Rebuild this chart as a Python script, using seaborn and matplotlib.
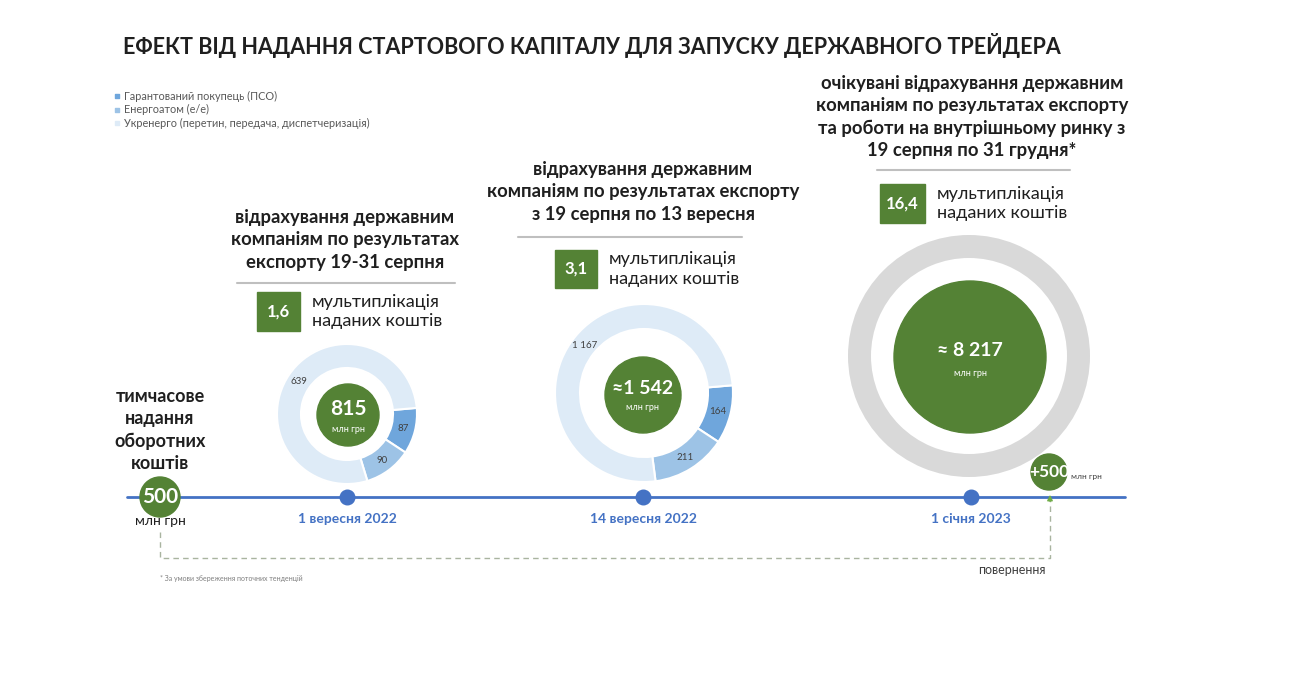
import matplotlib
matplotlib.use('Agg')
import matplotlib.pyplot as plt
from matplotlib.patches import Circle, Rectangle
import seaborn as sns

#Дані
title = "ЕФЕКТ ВІД НАДАННЯ СТАРТОВОГО КАПІТАЛУ ДЛЯ ЗАПУСКУ ДЕРЖАВНОГО ТРЕЙДЕРА"
legend_labels = ["Гарантований покупець (ПСО)", "Енергоатом (е/е)",
                 "Укренерго (перетин, передача, диспетчеризація)"]
headings = [
    "відрахування державним\nкомпаніям по результатах\nекспорту 19-31 серпня",
    "відрахування державним\nкомпаніям по результатах експорту\nз 19 серпня по 13 вересня",
    "очікувані відрахування державним\nкомпаніям по результатах експорту\nта роботи на внутрішньому ринку з\n19 серпня по 31 грудня*",
]
multipliers = ["1,6", "3,1", "16,4"]
multiplier_caption = "мультиплікація\nнаданих коштів"
totals = ["815", "≈1 542", "≈ 8 217"]
sep_1 = [87, 90, 639]        # ПСО, Енергоатом, Укренерго
sep_14 = [164, 211, 1167]
jan_1 = [8217]
dates = ["1 вересня 2022", "14 вересня 2022", "1 січня 2023"]
start_amount = "500"
return_amount = "+500"
unit = "млн грн"
start_caption = "тимчасове\nнадання\nоборотних\nкоштів"
return_caption = "повернення"
footnote = "* За умови збереження поточних тенденцій"

#Стиль
sns.set_theme(style="white")
plt.rcParams['font.family'] = ['Lato', 'Noto Sans', 'DejaVu Sans']

GREEN = '#548235'
BLUE = '#4472C4'
slice_colors = ['#6FA6DC', '#9DC3E6', '#DEEBF7']
TXT = '#1F1F1F'

W, H = 1296, 698
fig = plt.figure(figsize=(W / 100, H / 100), dpi=100)
ax = fig.add_axes([0, 0, 1, 1])

def Y(y):
    return H - y

def value_fmt(vals):
    total = sum(vals)
    return lambda p: f"{round(p * total / 100):,}".replace(",", " ")

#Кільцеві діаграми
donuts = [
    (sep_1, (347, 414), 70, 24),
    (sep_14, (644, 393), 89, 25),
]
for vals, (cx, cy), r, w in donuts:
    ax.pie(vals, colors=slice_colors, startangle=5, counterclock=False,
           radius=r, center=(cx, Y(cy)), frame=True,
           wedgeprops=dict(width=w, edgecolor='white', linewidth=1.5),
           autopct=value_fmt(vals), pctdistance=(r - w / 2) / r,
           textprops=dict(fontsize=7, color='#404040'))

ax.pie(jan_1, colors=['#D9D9D9'], radius=121, center=(969, Y(356)), frame=True,
       wedgeprops=dict(width=23, edgecolor='none'))

ax.set_xlim(0, W)
ax.set_ylim(0, H)
ax.axis('off')

#Центри кілець
centers = [((348, 415), 31, 15, 20), ((643, 395), 38, 14, 19), ((970, 357), 76, 14, 22)]
for total, ((cx, cy), rc, fs, dy) in zip(totals, centers):
    ax.add_patch(Circle((cx, Y(cy)), rc, color=GREEN, zorder=3))
    ax.text(cx, Y(cy - 6), total, ha='center', va='center', fontsize=fs,
            fontweight='bold', color='white', zorder=4)
    ax.text(cx, Y(cy - 6 + dy), unit, ha='center', va='center', fontsize=6.5,
            color='white', zorder=4)

#Заголовок і легенда
ax.text(123, Y(45), title, ha='left', va='center', fontsize=15.5, fontweight='bold', color=TXT)
for i, lab in enumerate(legend_labels):
    yy = Y(96 + 13.5 * i)
    ax.scatter([117], [yy], marker='s', s=7, color=slice_colors[i])
    ax.text(124, yy, lab, ha='left', va='center', fontsize=7.8, color='#595959')

#Підписи періодів
head_pos = [(345, 240, 237, 455, 283), (643, 192, 518, 742, 237), (972, 117, 877, 1070, 170)]
box_pos = [(257, 292, 43, 39), (555, 250, 42, 38), (880, 184, 45, 39)]
for head, mult, (hx, hy, lx0, lx1, ly), (bx, by, bw, bh) in zip(headings, multipliers, head_pos, box_pos):
    ax.text(hx, Y(hy), head, ha='center', va='center', fontsize=13.3,
            fontweight='bold', color=TXT, linespacing=1.38)
    ax.plot([lx0, lx1], [Y(ly), Y(ly)], color='#BFBFBF', lw=1.5)
    ax.add_patch(Rectangle((bx, Y(by + bh)), bw, bh, color=GREEN))
    ax.text(bx + bw / 2, Y(by + bh / 2), mult, ha='center', va='center',
            fontsize=12, fontweight='bold', color='white')
    ax.text(bx + bw + 12, Y(by + bh / 2), multiplier_caption, ha='left', va='center',
            fontsize=13, color=TXT, linespacing=1.3)

#Часова шкала
ax.plot([127, 1125], [Y(497), Y(497)], color=BLUE, lw=2, zorder=1)
date_x = [347, 643, 971]
ax.scatter(date_x, [Y(497)] * 3, s=110, color=BLUE, zorder=3)
for x, d in zip(date_x, dates):
    ax.text(x, Y(519), d, ha='center', va='center', fontsize=10,
            fontweight='bold', color=BLUE)

#Стартовий капітал і повернення
ax.plot([160, 160, 1050, 1050], [Y(532), Y(558), Y(558), Y(500)],
        ls=(0, (4, 3)), color='#A9B4A0', lw=1, zorder=1)
ax.annotate('', xy=(1050, Y(492)), xytext=(1050, Y(504)),
            arrowprops=dict(arrowstyle='-|>', color='#70AD47', lw=1, mutation_scale=8))
ax.add_patch(Circle((160, Y(497)), 20, color=GREEN, zorder=4))
ax.text(160, Y(497), start_amount, ha='center', va='center', fontsize=15,
        fontweight='bold', color='white', zorder=5)
ax.text(160, Y(521), unit, ha='center', va='center', fontsize=10, color=TXT)
ax.text(160, Y(430), start_caption, ha='center', va='center', fontsize=13,
        fontweight='bold', color=TXT, linespacing=1.38)

ax.add_patch(Circle((1049, Y(472)), 18, color=GREEN, zorder=4))
ax.text(1049, Y(472), return_amount, ha='center', va='center', fontsize=12.5,
        fontweight='bold', color='white', zorder=5)
ax.text(1071, Y(476), unit, ha='left', va='center', fontsize=6, color='#404040')
ax.text(1012, Y(570), return_caption, ha='center', va='center', fontsize=9, color='#404040')
ax.text(160, Y(579), footnote, ha='left', va='center', fontsize=5, color='#7F7F7F')

fig.savefig('out.png', dpi=100)
